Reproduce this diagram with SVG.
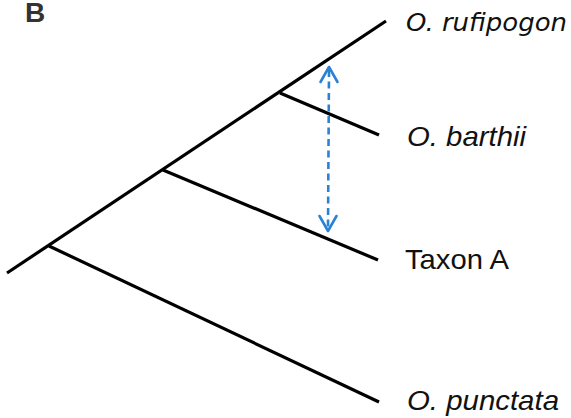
<svg xmlns="http://www.w3.org/2000/svg" width="571" height="418" viewBox="0 0 571 418">
  <defs>
    <style>
      .branch { stroke: #000; stroke-width: 3.2; fill: none; stroke-linecap: butt; }
      .gene { stroke: #2b82d4; stroke-width: 2.6; fill: none; stroke-dasharray: 7 4.5; }
      .head { stroke: #2b82d4; stroke-width: 2.6; fill: none; stroke-linecap: round; stroke-linejoin: round; }
      .taxon { font-family: "Liberation Sans", Arial, sans-serif; font-size: 28px; fill: #111; }
      .sp { font-style: italic; }
      .panel { font-family: "Liberation Sans", Arial, sans-serif; font-size: 28px; font-weight: bold; fill: #333; }
    </style>
  </defs>
  <rect width="571" height="418" fill="#fff"/>

  <text class="panel" x="25" y="22">B</text>

  <!-- tree branches -->
  <g id="connectors">
    <line class="branch" x1="7" y1="273" x2="386" y2="21"/>
    <line class="branch" x1="49" y1="246" x2="379" y2="402"/>
    <line class="branch" x1="163" y1="170" x2="378" y2="260"/>
    <line class="branch" x1="280" y1="93" x2="379" y2="135"/>
    <!-- double-headed dashed arrow -->
    <line class="gene" x1="329" y1="70" x2="328" y2="228"/>
    <polyline class="head" points="320.5,82 329,67 337.5,82"/>
    <polyline class="head" points="319.5,216 328,231 336.5,216"/>
  </g>

  <g id="rufipogon">
    <text class="taxon sp" x="406" y="31" style="font-family:'DejaVu Sans',sans-serif;font-size:25px" textLength="161" lengthAdjust="spacingAndGlyphs">O. rufipogon</text>
  </g>
  <g id="barthii">
    <text class="taxon sp" x="407" y="146" textLength="119" lengthAdjust="spacingAndGlyphs">O. barthii</text>
  </g>
  <g id="taxonA">
    <text class="taxon" x="405" y="269" textLength="104" lengthAdjust="spacingAndGlyphs">Taxon A</text>
  </g>
  <g id="punctata">
    <text class="taxon sp" x="407" y="410" textLength="152" lengthAdjust="spacingAndGlyphs">O. punctata</text>
  </g>
</svg>
